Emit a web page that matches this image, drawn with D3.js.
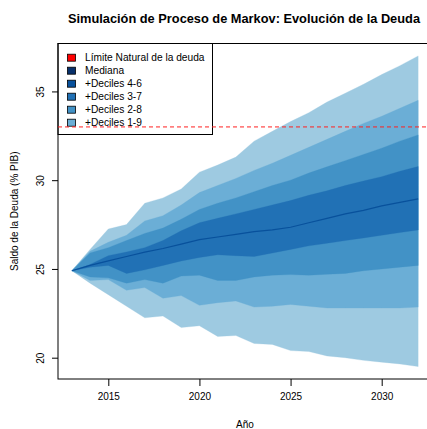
<!DOCTYPE html>
<html>
<head>
<meta charset="utf-8">
<script src="https://cdn.jsdelivr.net/npm/d3@7"></script>
<style>
  body { margin: 0; background: #fff; }
  text { font-family: "Liberation Sans", Arial, sans-serif; }
</style>
</head>
<body>
<div id="chart"></div>
<script>
// Data
var years   = [2013, 2014, 2015, 2016, 2017, 2018, 2019, 2020, 2021, 2022, 2023, 2024, 2025, 2026, 2027, 2028, 2029, 2030, 2031, 2032];
var dec1    = [24.9, 24.2, 23.55, 22.9, 22.25, 22.35, 21.7, 21.8, 21.2, 21.25, 20.8, 20.75, 20.4, 20.35, 20.1, 20.0, 19.85, 19.75, 19.65, 19.5];
var dec2    = [24.9, 24.35, 24.4, 23.8, 23.95, 23.35, 23.5, 22.95, 23.1, 23.2, 22.85, 22.9, 23.0, 22.9, 22.8, 22.8, 22.8, 22.8, 22.8, 22.85];
var dec3    = [24.9, 24.55, 24.5, 24.2, 24.4, 24.2, 24.6, 24.65, 24.35, 24.35, 24.55, 24.65, 24.68, 24.65, 24.7, 24.75, 24.9, 25.0, 25.1, 25.2];
var dec4    = [24.9, 25.1, 25.2, 24.75, 24.95, 25.2, 25.45, 25.65, 25.8, 25.75, 25.7, 25.9, 26.1, 26.3, 26.45, 26.6, 26.75, 26.9, 27.05, 27.2];
var mediana = [24.9, 25.2, 25.45, 25.7, 25.95, 26.15, 26.4, 26.65, 26.8, 26.95, 27.1, 27.2, 27.35, 27.6, 27.85, 28.1, 28.3, 28.55, 28.75, 28.95];
var dec6    = [24.9, 25.25, 25.75, 25.95, 26.2, 26.6, 27.15, 27.6, 27.85, 28.1, 28.35, 28.6, 28.85, 29.15, 29.4, 29.7, 29.95, 30.2, 30.5, 30.77];
var dec7    = [24.9, 25.9, 26.2, 26.6, 27.0, 27.3, 27.8, 28.35, 28.7, 29.0, 29.35, 29.7, 30.0, 30.4, 30.75, 31.1, 31.45, 31.8, 32.2, 32.55];
var dec8    = [24.9, 26.0, 26.5, 26.9, 27.7, 28.0, 28.6, 29.3, 29.7, 30.1, 30.55, 30.95, 31.4, 31.85, 32.3, 32.75, 33.2, 33.6, 34.05, 34.5];
var dec9    = [24.9, 26.1, 27.25, 27.5, 28.7, 29.0, 29.5, 30.45, 30.85, 31.3, 32.2, 32.75, 33.3, 33.8, 34.4, 34.9, 35.4, 35.95, 36.45, 37.0];
var limite  = 33;

var xTicks = [2015, 2020, 2025, 2030];
var yTicks = [20, 25, 30, 35];
var legendLabels = ["Límite Natural de la deuda", "Mediana", "+Deciles 4-6", "+Deciles 3-7", "+Deciles 2-8", "+Deciles 1-9"];
var legendColors = ["#ff0000", "#08306b", "#08519c", "#2171b5", "#4292c6", "#6baed6"];

var width = 427;
var height = 429;
var box = { left: 58, right: 432, top: 43.5, bottom: 379 };

var svg = d3.select('#chart')
            .append('svg')
            .attr('width', width)
            .attr('height', height);

// Scales (R style: 4% padding around the data range)
var xScale = d3.scaleLinear()
               .domain([2012.24, 2032.76])
               .range([box.left, box.right]);

var yScale = d3.scaleLinear()
               .domain([18.8, 37.7])
               .range([box.bottom, box.top]);

// Bands, widest first
var bands = [
    { lo: dec1, hi: dec9, color: "#9ecae1" },
    { lo: dec2, hi: dec8, color: "#6baed6" },
    { lo: dec3, hi: dec7, color: "#4292c6" },
    { lo: dec4, hi: dec6, color: "#2171b5" }
];

bands.forEach(function (b) {
    var area = d3.area()
                 .x((d, i) => xScale(years[i]))
                 .y0((d, i) => yScale(b.lo[i]))
                 .y1((d, i) => yScale(b.hi[i]));
    svg.append('path')
       .datum(years)
       .attr('d', area)
       .style('fill', b.color)
       .style('stroke', b.color)
       .style('stroke-width', 0.3);
});

var line = d3.line()
             .x((d, i) => xScale(years[i]))
             .y(d => yScale(d));

svg.append('path')
   .datum(mediana)
   .attr('d', line)
   .style('fill', 'none')
   .style('stroke', '#08519c')
   .style('stroke-width', 1.2);

// Axes
var xAxis = d3.axisBottom(xScale).tickValues(xTicks).tickFormat(d3.format("d")).tickSize(7).tickPadding(7);
var gx = svg.append('g')
            .attr('transform', 'translate(0,' + box.bottom + ')')
            .call(xAxis);

var yAxis = d3.axisLeft(yScale).tickValues(yTicks).tickSize(6);
var gy = svg.append('g')
            .attr('transform', 'translate(' + box.left + ',0)')
            .call(yAxis);

[gx, gy].forEach(function (g) {
    g.select('.domain').remove();
    g.selectAll('line').style('stroke', '#000');
    g.selectAll('text').style('font-size', '10px').style('fill', '#000')
     .style('font-family', '"Liberation Sans", Arial, sans-serif');
});

gy.selectAll('.tick text')
  .attr('x', null)
  .attr('dy', null)
  .attr('text-anchor', 'middle')
  .attr('transform', 'translate(-14,0) rotate(-90)');

// Plot box
svg.append('rect')
   .attr('x', box.left)
   .attr('y', box.top)
   .attr('width', box.right - box.left)
   .attr('height', box.bottom - box.top)
   .style('fill', 'none')
   .style('stroke', '#000')
   .style('stroke-width', 1);

// Legend
var legendTop = 43.5;
svg.append('rect')
   .attr('x', box.left)
   .attr('y', legendTop)
   .attr('width', 154.5)
   .attr('height', 91)
   .style('fill', 'none')
   .style('stroke', '#000')
   .style('stroke-width', 1);

legendLabels.forEach(function (label, i) {
    var cy = 57.7 + i * 13;
    svg.append('rect')
       .attr('x', 67.5)
       .attr('y', cy - 3.5)
       .attr('width', 8)
       .attr('height', 7)
       .style('fill', legendColors[i])
       .style('stroke', '#000')
       .style('stroke-width', 0.8);
    svg.append('text')
       .attr('x', 85)
       .attr('y', cy + 3.6)
       .style('font-size', '10.2px')
       .style('fill', '#000')
       .text(label);
});

// Natural debt limit
svg.append('line')
   .attr('x1', box.left)
   .attr('x2', box.right)
   .attr('y1', yScale(limite))
   .attr('y2', yScale(limite))
   .style('stroke', '#ff2020')
   .style('stroke-width', 1)
   .style('stroke-dasharray', '4,3');

// Titles
svg.append('text')
   .attr('x', 244)
   .attr('y', 23)
   .attr('text-anchor', 'middle')
   .style('font-size', '12.8px')
   .style('font-weight', 'bold')
   .text("Simulación de Proceso de Markov: Evolución de la Deuda");

svg.append('text')
   .attr('transform', 'translate(18,' + (box.top + box.bottom) / 2 + ') rotate(-90)')
   .attr('text-anchor', 'middle')
   .style('font-size', '10px')
   .text("Saldo de la Deuda (% PIB)");

svg.append('text')
   .attr('x', (box.left + box.right) / 2)
   .attr('y', 428)
   .attr('text-anchor', 'middle')
   .style('font-size', '10px')
   .text("Año");
</script>
</body>
</html>
